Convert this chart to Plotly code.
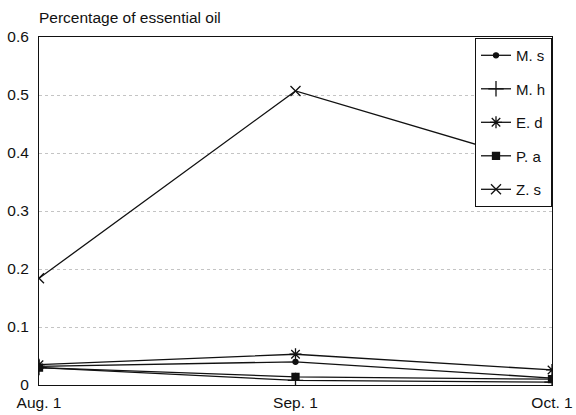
import plotly.graph_objects as go

dates = ["Aug. 1", "Sep. 1", "Oct. 1"]
ms = [0.032, 0.040, 0.012]
mh = [0.030, 0.008, 0.005]
ed = [0.035, 0.053, 0.026]
pa = [0.030, 0.014, 0.010]
zs = [0.184, 0.507, 0.376]
y_ticks = [0, 0.1, 0.2, 0.3, 0.4, 0.5, 0.6]

series = [
    ("M. s", ms, "circle", 5),
    ("M. h", mh, "cross-thin-open", 11),
    ("E. d", ed, "asterisk-open", 10),
    ("P. a", pa, "square", 7),
    ("Z. s", zs, "x-thin-open", 10),
]

fig = go.Figure()
for i, (name, vals, sym, sz) in enumerate(series):
    fig.add_trace(go.Scatter(
        x=[0, 1, 2], y=vals, name=name, mode="lines+markers",
        legendgroup=f"g{i}",
        line=dict(color="#111", width=1.3),
        marker=dict(symbol=sym, size=sz, color="#111",
                    line=dict(color="#111", width=1.3)),
    ))

font = dict(family="Liberation Sans, Arial, sans-serif", size=15.5, color="#111")

fig.update_layout(
    width=576, height=415,
    margin=dict(l=39, r=24, t=37, b=30, autoexpand=False),
    paper_bgcolor="white", plot_bgcolor="white",
    font=font,
    showlegend=True,
    title=dict(
        text="Percentage of essential oil", xref="paper", x=0.0, xanchor="left",
        yref="container", y=0.957, yanchor="middle", font=font, pad=dict(l=0),
    ),
    legend=dict(
        x=1, y=0.997, xanchor="right", yanchor="top",
        bordercolor="#111", borderwidth=1, bgcolor="white",
        font=dict(family="Liberation Sans, Arial, sans-serif", size=15, color="#111"),
        tracegroupgap=11, traceorder="grouped", itemwidth=30,
    ),
    xaxis=dict(
        range=[0, 2], tickmode="array", tickvals=[0, 1, 2], ticktext=dates,
        showgrid=False, zeroline=False, showline=True, linecolor="#111",
        linewidth=1, mirror=True, ticks="", tickfont=font, automargin=False,
        ticklabelstandoff=3,
    ),
    yaxis=dict(
        range=[0, 0.6], tickmode="array", tickvals=y_ticks,
        ticktext=["0" if v == 0 else f"{v:.1f}" for v in y_ticks],
        showgrid=True, gridcolor="#c4c4c4", griddash="dot", gridwidth=1,
        zeroline=False, showline=True, linecolor="#111", linewidth=1,
        mirror=True, ticks="", tickfont=font, ticklabelstandoff=6,
        automargin=False,
    ),
)

fig.write_html(
    "out.html",
    config={"displayModeBar": False},
    post_script="document.body.style.margin='0';",
)
